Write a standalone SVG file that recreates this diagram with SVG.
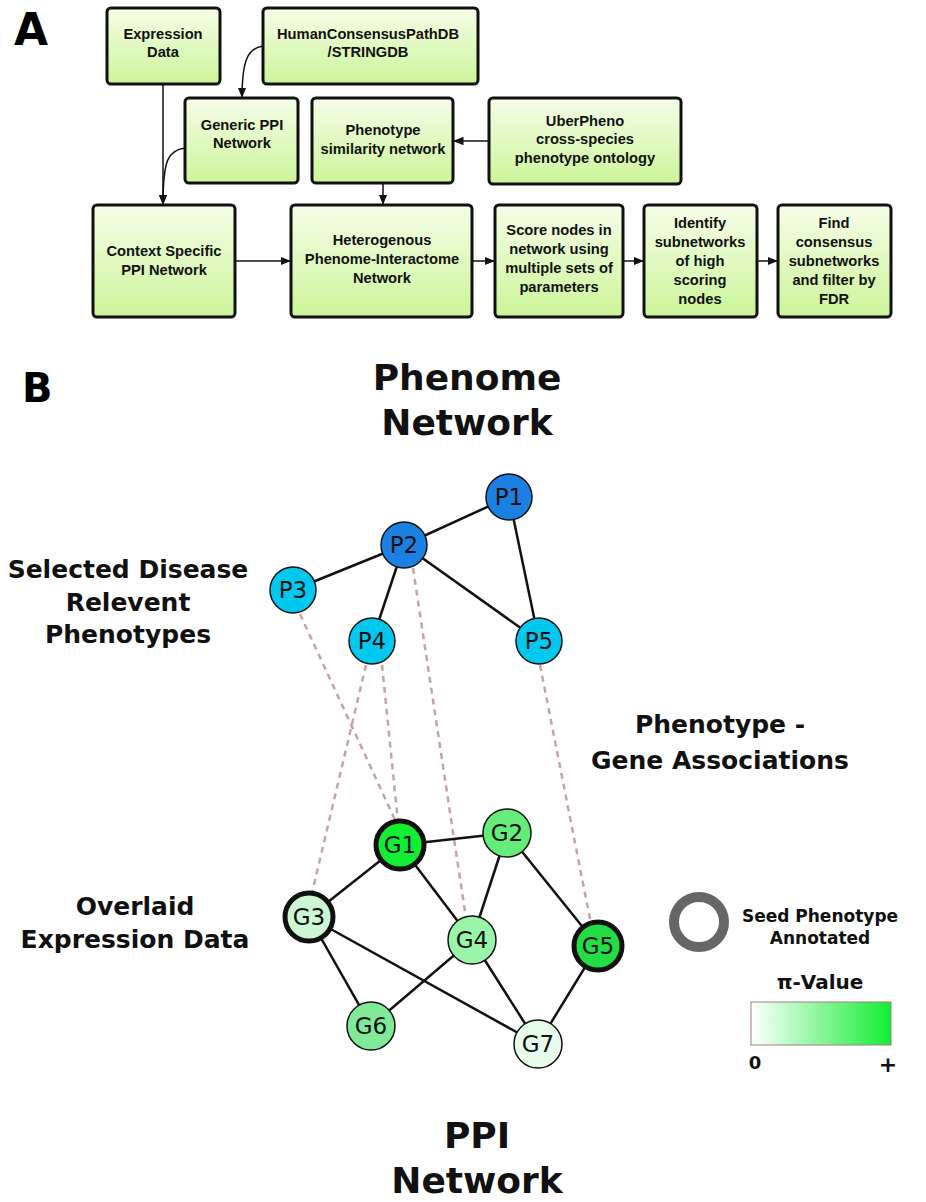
<svg xmlns="http://www.w3.org/2000/svg" width="926" height="1202" viewBox="0 0 926 1202">
<defs>
<linearGradient id="bx" x1="0" y1="0" x2="0" y2="1"><stop offset="0" stop-color="#f6fde8"/><stop offset="1" stop-color="#ccf59a"/></linearGradient>
<linearGradient id="pv" x1="0" y1="0" x2="1" y2="0"><stop offset="0" stop-color="#ffffff"/><stop offset="1" stop-color="#11ee33"/></linearGradient>
<marker id="ar" viewBox="0 0 10 10" refX="10" refY="5" markerWidth="7" markerHeight="7" orient="auto"><path d="M0,1 L10,5 L0,9 z" fill="#111"/></marker>
</defs>
<style>
.box{fill:url(#bx);stroke:#111;stroke-width:3}
.bt{font-family:"Liberation Sans",Arial,sans-serif;font-weight:bold;font-size:14.7px;text-anchor:middle;fill:#111}
.c{fill:none;stroke:#111;stroke-width:1.5;marker-end:url(#ar)}
.e{stroke:#111;stroke-width:2.5}
.d{stroke:#c4a4a4;stroke-width:2.5;stroke-dasharray:6,5}
.n{stroke:#111;stroke-width:1.5}
.tk{stroke:#111;stroke-width:5}
.nt{font-family:"DejaVu Sans",sans-serif;font-size:23px;text-anchor:middle;fill:#111}
.lt{font-family:"DejaVu Sans",sans-serif;font-weight:bold;text-anchor:middle;fill:#111}
</style>
<rect width="926" height="1202" fill="#fff"/>
<text x="14" y="45" font-family="DejaVu Sans,sans-serif" font-weight="bold" font-size="44">A</text>
<text x="22" y="402" font-family="DejaVu Sans,sans-serif" font-weight="bold" font-size="40">B</text>

<g id="connectors">
<path class="c" d="M163,84 V205"/>
<path class="c" d="M185,148 C168,150 163,160 163,205"/>
<path class="c" d="M263,46 C248,48 242,60 242,98"/>
<path class="c" d="M489,141 H453"/>
<path class="c" d="M383,183 V205"/>
<path class="c" d="M235,261 H291"/>
<path class="c" d="M472,261 H495"/>
<path class="c" d="M623,261 H644"/>
<path class="c" d="M757,261 H778"/>
</g>

<g id="expr"><rect class="box" x="107" y="8" width="113" height="76" rx="4"/><text class="bt" x="163" y="39">Expression</text><text class="bt" x="163" y="57">Data</text></g>
<g id="hcpdb"><rect class="box" x="263" y="8" width="215" height="76" rx="4"/><text class="bt" x="368" y="39">HumanConsensusPathDB</text><text class="bt" x="368" y="57">/STRINGDB</text></g>
<g id="generic"><rect class="box" x="185" y="98" width="113" height="85" rx="4"/><text class="bt" x="242" y="130">Generic PPI</text><text class="bt" x="242" y="148">Network</text></g>
<g id="phsim"><rect class="box" x="312" y="98" width="141" height="85" rx="4"/><text class="bt" x="383" y="135">Phenotype</text><text class="bt" x="383" y="154">similarity network</text></g>
<g id="uber"><rect class="box" x="489" y="98" width="192" height="86" rx="4"/><text class="bt" x="585" y="126">UberPheno</text><text class="bt" x="585" y="144">cross-species</text><text class="bt" x="585" y="163">phenotype ontology</text></g>
<g id="context"><rect class="box" x="93" y="205" width="142" height="112" rx="4"/><text class="bt" x="164" y="256">Context Specific</text><text class="bt" x="164" y="275">PPI Network</text></g>
<g id="hetero"><rect class="box" x="291" y="205" width="181" height="112" rx="4"/><text class="bt" x="382" y="245">Heterogenous</text><text class="bt" x="382" y="264">Phenome-Interactome</text><text class="bt" x="382" y="283">Network</text></g>
<g id="score"><rect class="box" x="495" y="205" width="128" height="112" rx="4"/><text class="bt" x="559" y="235">Score nodes in</text><text class="bt" x="559" y="254">network using</text><text class="bt" x="559" y="273">multiple sets of</text><text class="bt" x="559" y="292">parameters</text></g>
<g id="identify"><rect class="box" x="644" y="205" width="113" height="112" rx="4"/><text class="bt" x="700" y="228">Identify</text><text class="bt" x="700" y="247">subnetworks</text><text class="bt" x="700" y="266">of high</text><text class="bt" x="700" y="285">scoring</text><text class="bt" x="700" y="304">nodes</text></g>
<g id="find"><rect class="box" x="778" y="205" width="113" height="112" rx="4"/><text class="bt" x="834" y="228">Find</text><text class="bt" x="834" y="247">consensus</text><text class="bt" x="834" y="266">subnetworks</text><text class="bt" x="834" y="285">and filter by</text><text class="bt" x="834" y="304">FDR</text></g>

<g id="edges">
<line class="e" x1="509" y1="497" x2="404" y2="545"/>
<line class="e" x1="509" y1="497" x2="539" y2="641"/>
<line class="e" x1="404" y1="545" x2="293" y2="590"/>
<line class="e" x1="404" y1="545" x2="372" y2="641"/>
<line class="e" x1="404" y1="545" x2="539" y2="641"/>
<line class="d" x1="300" y1="614" x2="396" y2="822"/>
<line class="d" x1="366" y1="665" x2="312" y2="893"/>
<line class="d" x1="382" y1="665" x2="398" y2="822"/>
<line class="d" x1="413" y1="568" x2="466" y2="918"/>
<line class="d" x1="540" y1="665" x2="591" y2="924"/>
<line class="e" x1="400" y1="845" x2="507" y2="833"/>
<line class="e" x1="400" y1="845" x2="309" y2="917"/>
<line class="e" x1="400" y1="845" x2="472" y2="940"/>
<line class="e" x1="507" y1="833" x2="472" y2="940"/>
<line class="e" x1="507" y1="833" x2="598" y2="946"/>
<line class="e" x1="309" y1="917" x2="538" y2="1044"/>
<line class="e" x1="309" y1="917" x2="371" y2="1026"/>
<line class="e" x1="472" y1="940" x2="371" y2="1026"/>
<line class="e" x1="472" y1="940" x2="538" y2="1044"/>
<line class="e" x1="598" y1="946" x2="538" y2="1044"/>
</g>

<g id="P1"><circle class="n" cx="509" cy="497" r="23" fill="#1c7fe2"/><text class="nt" x="509" y="505">P1</text></g>
<g id="P2"><circle class="n" cx="404" cy="545" r="23" fill="#1c7fe2"/><text class="nt" x="404" y="553">P2</text></g>
<g id="P3"><circle class="n" cx="293" cy="590" r="23" fill="#00c8ee"/><text class="nt" x="293" y="598">P3</text></g>
<g id="P4"><circle class="n" cx="372" cy="641" r="23" fill="#00c8ee"/><text class="nt" x="372" y="649">P4</text></g>
<g id="P5"><circle class="n" cx="539" cy="641" r="23" fill="#00c8ee"/><text class="nt" x="539" y="649">P5</text></g>
<g id="G1"><circle class="tk" cx="400" cy="845" r="24" fill="#11ee33"/><text class="nt" x="400" y="853">G1</text></g>
<g id="G2"><circle class="n" cx="507" cy="833" r="24" fill="#66ec7a"/><text class="nt" x="507" y="841">G2</text></g>
<g id="G3"><circle class="tk" cx="309" cy="917" r="24" fill="#cdf6d4"/><text class="nt" x="309" y="925">G3</text></g>
<g id="G4"><circle class="n" cx="472" cy="940" r="24" fill="#9af5ab"/><text class="nt" x="472" y="948">G4</text></g>
<g id="G5"><circle class="tk" cx="598" cy="946" r="24" fill="#22de44"/><text class="nt" x="598" y="954">G5</text></g>
<g id="G6"><circle class="n" cx="371" cy="1026" r="24" fill="#80e99a"/><text class="nt" x="371" y="1034">G6</text></g>
<g id="G7"><circle class="n" cx="538" cy="1044" r="24" fill="#e6fbe9"/><text class="nt" x="538" y="1052">G7</text></g>

<g id="labels">
<text class="lt" font-size="36" x="467" y="390">Phenome</text>
<text class="lt" font-size="36" x="467" y="435">Network</text>
<text class="lt" font-size="36" x="477" y="1148">PPI</text>
<text class="lt" font-size="36" x="477" y="1193">Network</text>
<text class="lt" font-size="25" x="128" y="578">Selected Disease</text>
<text class="lt" font-size="25" x="128" y="611">Relevent</text>
<text class="lt" font-size="25" x="128" y="643">Phenotypes</text>
<text class="lt" font-size="25" x="720" y="733">Phenotype -</text>
<text class="lt" font-size="25" x="720" y="769">Gene Associations</text>
<text class="lt" font-size="25" x="135" y="915">Overlaid</text>
<text class="lt" font-size="25" x="135" y="948">Expression Data</text>
</g>
<g id="legend">
<circle cx="699" cy="922" r="25" fill="none" stroke="#666" stroke-width="10"/>
<text class="lt" font-size="17" x="820" y="922">Seed Phenotype</text>
<text class="lt" font-size="17" x="820" y="944">Annotated</text>
<text class="lt" font-size="20" x="820" y="989">π-Value</text>
<rect x="751" y="1002" width="140" height="43" fill="url(#pv)" stroke="#a08080" stroke-width="1"/>
<text class="lt" font-size="18" x="755" y="1069">0</text>
<text class="lt" font-size="22" x="888" y="1072">+</text>
</g>
</svg>
